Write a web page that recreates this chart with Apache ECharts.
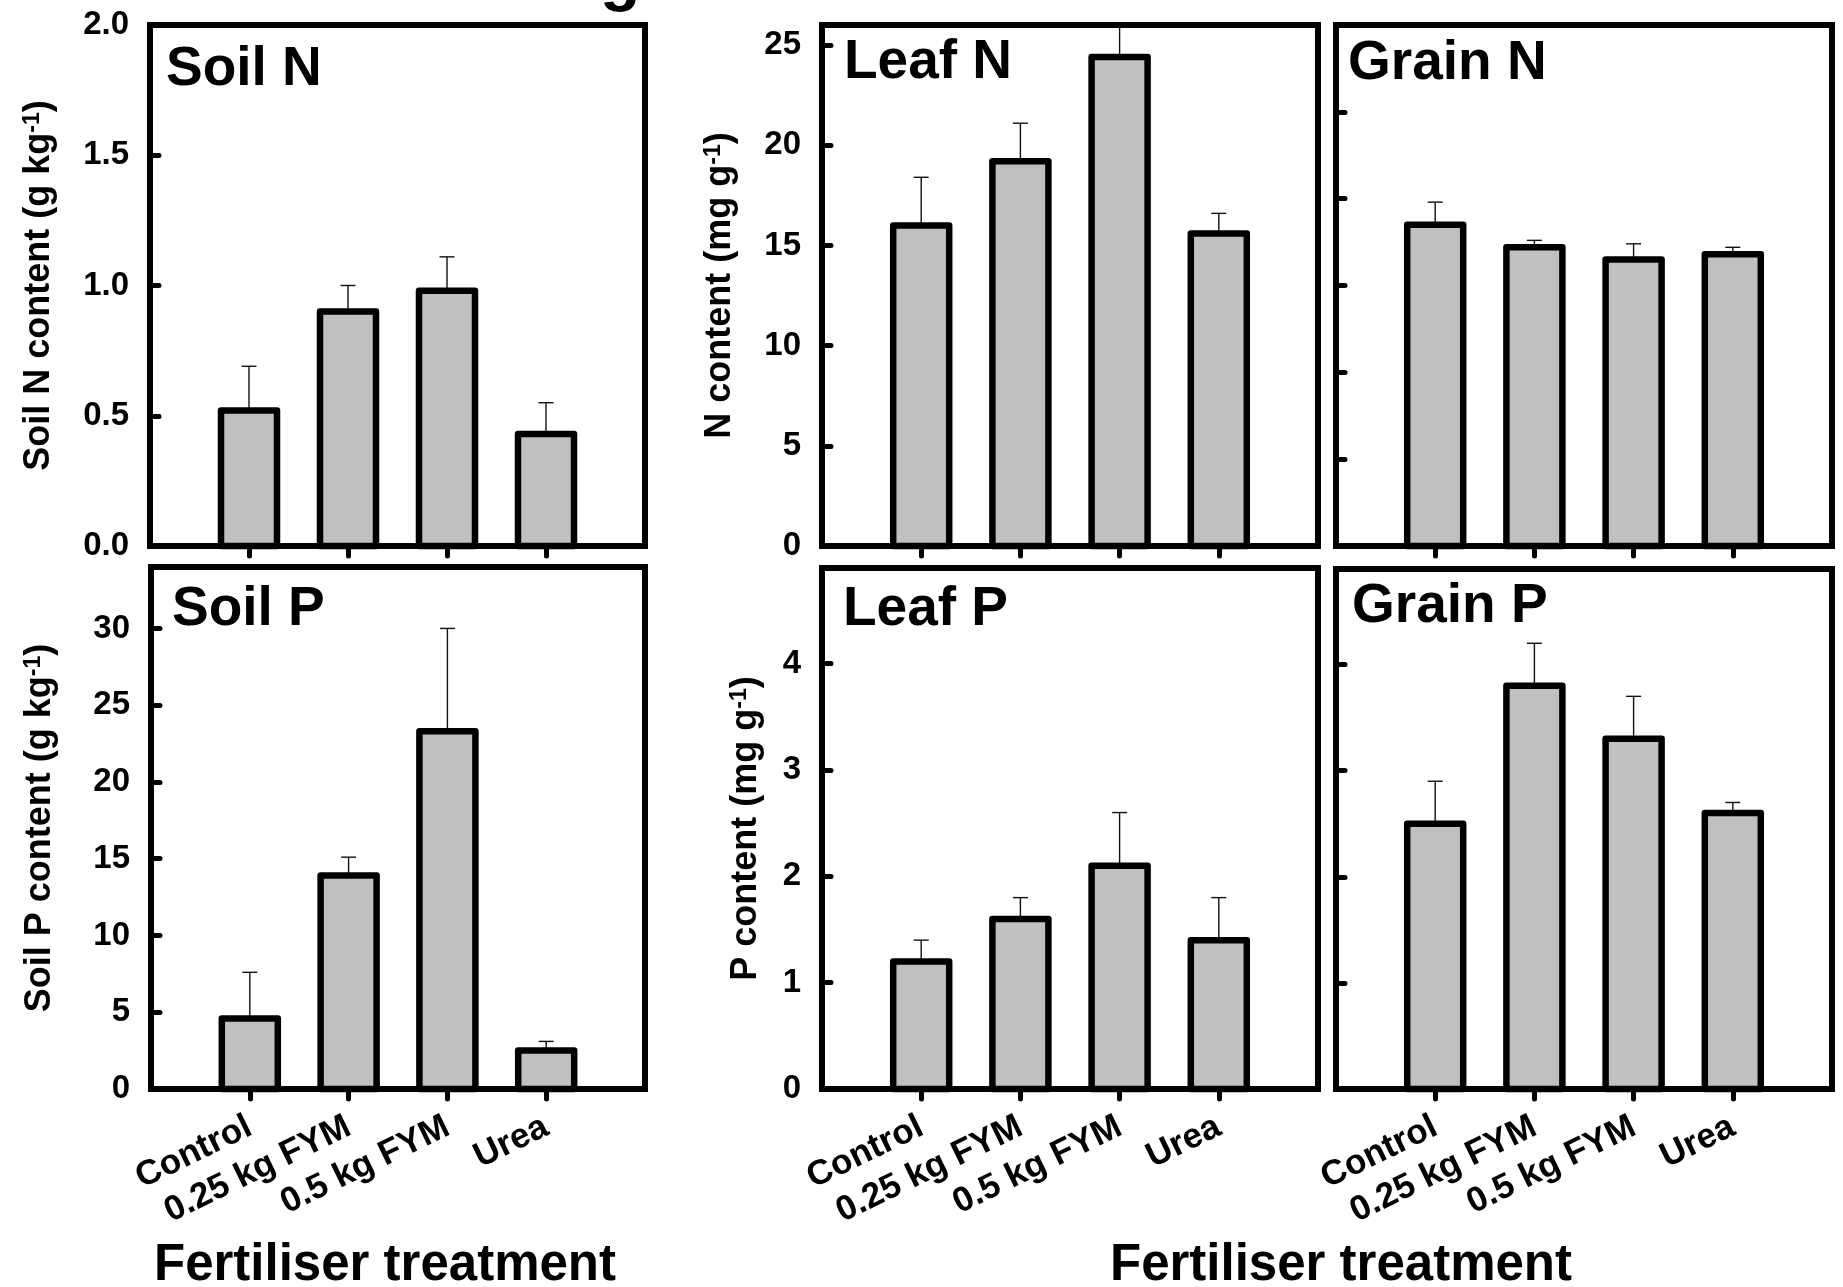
<!DOCTYPE html>
<html><head><meta charset="utf-8">
<script src="https://cdn.jsdelivr.net/npm/echarts@6/dist/echarts.min.js"></script>
<style>html,body{margin:0;padding:0;background:#fff}#c{width:1843px;height:1287px}</style>
</head><body><div id="c"></div>
<script>
// ---- data ----
const categories = ['Control', '0.25 kg FYM', '0.5 kg FYM', 'Urea'];
const soilN = [0.52, 0.90, 0.98, 0.43];
const soilNErr = [0.17, 0.10, 0.13, 0.12];
const soilP = [4.6, 13.9, 23.3, 2.5];
const soilPErr = [3.0, 1.2, 6.7, 0.6];
const leafN = [16.0, 19.2, 24.4, 15.6];
const leafNErr = [2.4, 1.9, 2.3, 1.0];
const grainN = [18.5, 17.2, 16.5, 16.8];
const grainNErr = [1.3, 0.4, 0.9, 0.4];
const leafP = [1.2, 1.6, 2.1, 1.4];
const leafPErr = [0.2, 0.2, 0.5, 0.4];
const grainP = [2.5, 3.8, 3.3, 2.6];
const grainPErr = [0.4, 0.4, 0.4, 0.1];
const panelTitles = ['Soil N', 'Soil P', 'Leaf N', 'Grain N', 'Leaf P', 'Grain P'];
const yNames = ['Soil N content (g kg{s|-1})', 'Soil P content (g kg{s|-1})', 'N content (mg g{s|-1})', '', 'P content (mg g{s|-1})', ''];
const xTitle = 'Fertiliser treatment';

// ---- layout / style ----
const FONT = "'Liberation Sans', Arial, Helvetica, sans-serif";
const BAR_W = 56;
const panels = [
  {values: soilN, errors: soilNErr, max: 2, interval: 0.5, dec: 1, box: [150, 25, 495, 521], showX: false, showY: true, gap: 93, t: [166, 89]},
  {values: soilP, errors: soilPErr, max: 34, interval: 5, dec: 0, box: [151, 567, 494, 522], showX: true, showY: true, gap: 93, t: [172, 629]},
  {values: leafN, errors: leafNErr, max: 26, interval: 5, dec: 0, box: [822, 25, 496, 521], showX: false, showY: true, gap: 84, t: [844, 82]},
  {values: grainN, errors: grainNErr, max: 30, interval: 5, dec: 0, box: [1336, 25, 496, 521], showX: false, showY: false, gap: 80, t: [1348, 83]},
  {values: leafP, errors: leafPErr, max: 4.9, interval: 1, dec: 0, box: [822, 568, 496, 521], showX: true, showY: true, gap: 58, t: [843, 629]},
  {values: grainP, errors: grainPErr, max: 4.9, interval: 1, dec: 0, box: [1336, 569, 496, 520], showX: true, showY: false, gap: 58, t: [1352, 626]}
];
const axisCats = [' '].concat(categories, ['  ']);
const inner = (idx) => idx >= 1 && idx <= axisCats.length - 2;

const grids = [], xAxes = [], yAxes = [], series = [], graphics = [];
panels.forEach((p, i) => {
  grids.push({left: p.box[0], top: p.box[1], width: p.box[2], height: p.box[3], show: true,
    borderColor: '#000', borderWidth: 6, backgroundColor: 'rgba(0,0,0,0)'});
  xAxes.push({gridIndex: i, type: 'category', data: axisCats, boundaryGap: false,
    axisLine: {show: true, lineStyle: {color: '#000', width: 6}},
    axisTick: {show: true, inside: false, length: 10, interval: inner, lineStyle: {color: '#000', width: 5, cap: 'round'}},
    axisLabel: {show: p.showX, interval: inner, rotate: 26, margin: 36, fontSize: 35, fontWeight: 'bold', fontFamily: FONT, color: '#000'},
    splitLine: {show: false}});
  yAxes.push({gridIndex: i, type: 'value', min: 0, max: p.max, interval: p.interval,
    name: yNames[i], nameLocation: 'middle', nameRotate: 90, nameGap: p.gap,
    nameTextStyle: {fontSize: 36, fontWeight: 'bold', fontFamily: FONT, color: '#000',
      rich: {s: {fontSize: 23, fontWeight: 'bold', fontFamily: FONT, color: '#000', verticalAlign: 'top'}}},
    axisLine: {show: true, lineStyle: {color: '#000', width: 6}},
    axisTick: {show: true, inside: true, length: 9, lineStyle: {color: '#000', width: 5, cap: 'round'}},
    axisLabel: {show: p.showY, margin: 21, fontSize: 33, fontWeight: 'bold', fontFamily: FONT, color: '#000',
      formatter: (v) => {
        const r = v / p.interval;
        if (Math.abs(r - Math.round(r)) > 1e-6) return '';
        return v.toFixed(p.dec);
      }},
    splitLine: {show: false}});
  // error bars
  series.push({type: 'custom', xAxisIndex: i, yAxisIndex: i, z: 2, silent: true, animation: false,
    encode: {x: 0, y: 1},
    data: categories.map((c, k) => [c, p.values[k], p.errors[k]]),
    renderItem: (params, api) => {
      const x = api.value(0), v = api.value(1), e = api.value(2);
      const top = v + e;
      const tv = Math.min(top, p.max);
      const b = api.coord([x, v]);
      const t = api.coord([x, tv]);
      const st = {stroke: '#111', lineWidth: 1.4, fill: null};
      const ch = [{type: 'line', shape: {x1: b[0], y1: b[1], x2: t[0], y2: t[1]}, style: st}];
      if (top <= p.max) ch.push({type: 'line', shape: {x1: t[0] - 7.5, y1: t[1], x2: t[0] + 7.5, y2: t[1]}, style: st});
      return {type: 'group', children: ch};
    }});
  // bars (stroke centred on the value line)
  series.push({type: 'custom', xAxisIndex: i, yAxisIndex: i, z: 3, silent: true, animation: false,
    encode: {x: 0, y: 1},
    data: categories.map((c, k) => [c, p.values[k]]),
    renderItem: (params, api) => {
      const x = api.value(0), v = api.value(1);
      const t = api.coord([x, v]);
      const b = api.coord([x, 0]);
      return {type: 'rect', shape: {x: t[0] - BAR_W / 2, y: t[1], width: BAR_W, height: b[1] - t[1]},
        style: {fill: '#c0c0c0', stroke: '#000', lineWidth: 6.5, lineJoin: 'round'}};
    }});
  graphics.push({type: 'text', x: p.t[0], y: p.t[1] - 0.3465 * 55, z: 10,
    style: {text: panelTitles[i], fontSize: 55, fontWeight: 'bold', fontFamily: FONT, fill: '#000', align: 'left', verticalAlign: 'middle'}});
});
graphics.push({type: 'text', x: 385, y: 1284 - 0.3465 * 51, z: 10,
  style: {text: xTitle, fontSize: 51, fontWeight: 'bold', fontFamily: FONT, fill: '#000', align: 'center', verticalAlign: 'middle'}});
graphics.push({type: 'text', x: 1341, y: 1284 - 0.3465 * 51, z: 10,
  style: {text: xTitle, fontSize: 51, fontWeight: 'bold', fontFamily: FONT, fill: '#000', align: 'center', verticalAlign: 'middle'}});
graphics.push({type: 'text', x: 600, y: 3 - 0.3465 * 66, z: 10,
  style: {text: 'g', fontSize: 66, fontWeight: 'bold', fontFamily: FONT, fill: '#000', align: 'left', verticalAlign: 'middle'}});

const chart = echarts.init(document.getElementById('c'), null, {renderer: 'canvas'});
chart.setOption({animation: false, backgroundColor: '#fff', grid: grids, xAxis: xAxes, yAxis: yAxes, series: series, graphic: graphics});
</script></body></html>
